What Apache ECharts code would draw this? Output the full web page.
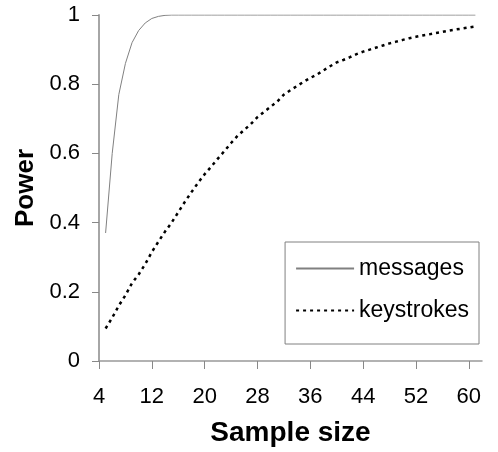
<!DOCTYPE html>
<html>
<head>
<meta charset="utf-8">
<script src="https://cdn.jsdelivr.net/npm/echarts@6/dist/echarts.min.js"></script>
<style>
html,body{margin:0;padding:0;background:#fff;}
#chart{width:498px;height:452px;}
</style>
</head>
<body>
<div id="chart"></div>
<script>
// Category axis: sample sizes 4..62
const sampleSizes = [4,5,6,7,8,9,10,11,12,13,14,15,16,17,18,19,20,21,22,23,24,25,26,27,28,29,30,31,32,33,34,35,36,37,38,39,40,41,42,43,44,45,46,47,48,49,50,51,52,53,54,55,56,57,58,59,60,61,62];
// Data points: sample sizes 5..61
const dataSizes = [5,6,7,8,9,10,11,12,13,14,15,16,17,18,19,20,21,22,23,24,25,26,27,28,29,30,31,32,33,34,35,36,37,38,39,40,41,42,43,44,45,46,47,48,49,50,51,52,53,54,55,56,57,58,59,60,61];
const messages = [0.37,0.60,0.77,0.86,0.92,0.955,0.977,0.99,0.996,0.999,1,1,1,1,1,1,1,1,1,1,1,1,1,1,1,1,1,1,1,1,1,1,1,1,1,1,1,1,1,1,1,1,1,1,1,1,1,1,1,1,1,1,1,1,1,1,1];
const keystrokes = [0.094,0.125,0.16,0.19,0.225,0.25,0.28,0.315,0.345,0.374,0.40,0.43,0.46,0.488,0.515,0.54,0.562,0.585,0.607,0.63,0.651,0.668,0.685,0.705,0.72,0.735,0.75,0.77,0.783,0.795,0.807,0.818,0.828,0.84,0.852,0.863,0.87,0.878,0.887,0.894,0.90,0.906,0.912,0.918,0.923,0.928,0.933,0.937,0.941,0.944,0.948,0.951,0.955,0.958,0.961,0.964,0.967];
const yTicks = [0, 0.2, 0.4, 0.6, 0.8, 1];

const font = '"Liberation Sans", Arial, sans-serif';
const chart = echarts.init(document.getElementById('chart'));
chart.setOption({
  animation: false,
  backgroundColor: '#ffffff',
  grid: {left: 99, right: 16, top: 15, bottom: 91, containLabel: false},
  legend: {
    orient: 'vertical',
    right: 19,
    top: 242,
    padding: [15, 10, 22, 10],
    itemGap: 19,
    itemWidth: 58,
    itemHeight: 14,
    borderColor: '#808080',
    borderWidth: 1,
    itemStyle: {opacity: 0},
    textStyle: {fontFamily: font, fontSize: 23, color: '#000', width: 112},
    data: ['messages', 'keystrokes']
  },
  xAxis: {
    type: 'category',
    boundaryGap: false,
    data: sampleSizes.map(String),
    name: 'Sample size',
    nameLocation: 'middle',
    nameGap: 58,
    nameTextStyle: {fontFamily: font, fontSize: 28, fontWeight: 'bold', color: '#000'},
    axisLine: {lineStyle: {color: '#999999', width: 1.5}},
    axisTick: {interval: 7, length: 8, lineStyle: {color: '#888888', width: 1}},
    axisLabel: {interval: 7, margin: 25, fontFamily: font, fontSize: 22, color: '#000'},
    splitLine: {show: false}
  },
  yAxis: {
    type: 'value',
    min: 0,
    max: 1,
    interval: 0.2,
    name: 'Power',
    nameLocation: 'middle',
    nameGap: 52,
    nameTextStyle: {fontFamily: font, fontSize: 26, fontWeight: 'bold', color: '#000'},
    axisLine: {show: true, lineStyle: {color: '#a6a6a6', width: 2}},
    axisTick: {show: true, length: 7, lineStyle: {color: '#888888', width: 1}},
    axisLabel: {margin: 19, fontFamily: font, fontSize: 22, color: '#000',
      formatter: v => String(yTicks.find(t => Math.abs(t - v) < 1e-9) ?? v)},
    splitLine: {show: false}
  },
  series: [
    {
      name: 'messages',
      type: 'line',
      symbol: 'none',
      data: dataSizes.map((n, i) => [String(n), messages[i]]),
      lineStyle: {color: '#808080', width: 1},
      itemStyle: {color: '#808080'}
    },
    {
      name: 'keystrokes',
      type: 'line',
      symbol: 'none',
      data: dataSizes.map((n, i) => [String(n), keystrokes[i]]),
      lineStyle: {color: '#000000', width: 2.5, type: [3, 4]},
      itemStyle: {color: '#000000'}
    }
  ]
});
</script>
</body>
</html>
